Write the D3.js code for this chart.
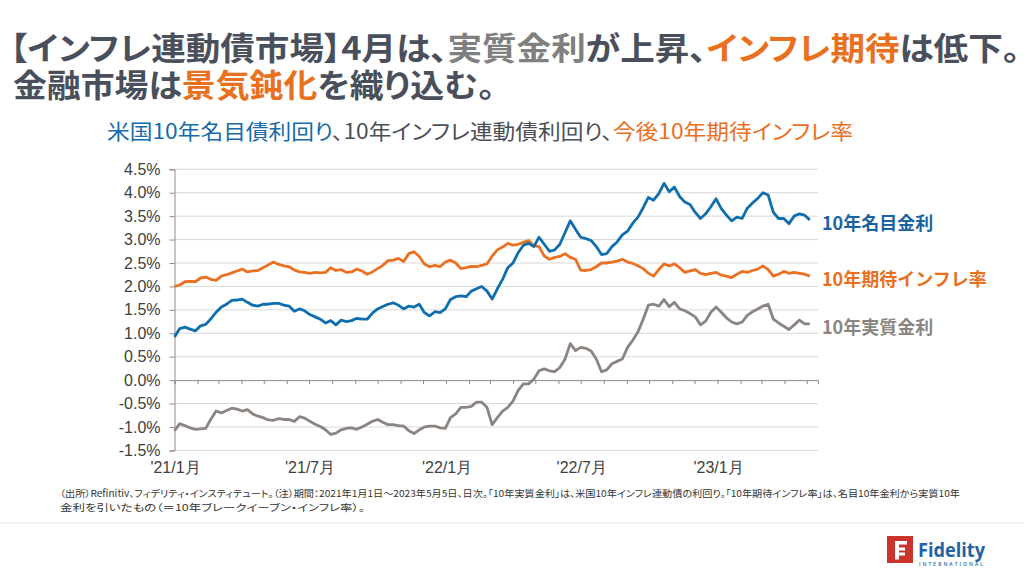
<!DOCTYPE html>
<html><head><meta charset="utf-8">
<script src="https://cdn.jsdelivr.net/npm/d3@7"></script>
<style>
body{margin:0;background:#fff;}
svg{display:block;}
.palt{font-feature-settings:"palt" 1;}
</style></head><body>
<svg id="c" width="1024" height="576"></svg>
<script>
// ---------- data ----------
const startDate = new Date(2021, 0, 1);
const endDate = new Date(2023, 4, 6);
// weekly observations (Fridays) 2021-01-01 .. 2023-05-05
const dates = d3.timeFriday.range(startDate, endDate);

const nominal = [
 0.92,1.10,1.13,1.09,1.05,1.16,1.19,1.31,1.45,1.56,
 1.62,1.70,1.71,1.73,1.66,1.60,1.58,1.62,1.62,1.64,
 1.64,1.60,1.58,1.47,1.52,1.48,1.40,1.35,1.30,1.22,
 1.27,1.18,1.28,1.25,1.27,1.32,1.30,1.30,1.43,1.52,
 1.57,1.62,1.65,1.60,1.52,1.58,1.56,1.62,1.44,1.37,
 1.46,1.44,1.52,1.72,1.78,1.80,1.78,1.90,1.95,2.00,
 1.90,1.73,1.95,2.15,2.40,2.50,2.72,2.88,2.92,2.85,
 3.05,2.90,2.75,2.78,2.90,3.15,3.40,3.22,3.05,3.02,
 2.98,2.85,2.68,2.70,2.85,2.95,3.10,3.18,3.35,3.48,
 3.68,3.90,3.84,3.98,4.20,4.02,4.12,3.92,3.80,3.75,
 3.58,3.45,3.55,3.70,3.87,3.66,3.52,3.40,3.48,3.45,
 3.67,3.78,3.88,4.00,3.95,3.58,3.45,3.45,3.34,3.50,
 3.55,3.52,3.42
];
const breakeven = [
 2.00,2.03,2.10,2.11,2.10,2.18,2.20,2.15,2.13,2.22,
 2.25,2.29,2.33,2.37,2.31,2.33,2.34,2.40,2.46,2.52,
 2.47,2.44,2.42,2.35,2.31,2.30,2.28,2.30,2.29,2.30,
 2.40,2.34,2.36,2.30,2.31,2.37,2.33,2.26,2.31,2.38,
 2.45,2.55,2.56,2.60,2.53,2.70,2.74,2.64,2.48,2.42,
 2.45,2.42,2.52,2.56,2.50,2.38,2.40,2.43,2.42,2.45,
 2.48,2.65,2.78,2.84,2.92,2.88,2.90,2.94,2.98,2.87,
 2.85,2.65,2.58,2.62,2.64,2.70,2.62,2.58,2.35,2.34,
 2.36,2.42,2.50,2.50,2.52,2.54,2.58,2.52,2.49,2.44,
 2.38,2.28,2.22,2.36,2.48,2.44,2.48,2.40,2.30,2.33,
 2.36,2.28,2.25,2.28,2.30,2.24,2.22,2.19,2.26,2.32,
 2.30,2.34,2.37,2.44,2.36,2.22,2.26,2.32,2.28,2.30,
 2.28,2.26,2.22
];
const real = [
 -1.08,-0.93,-0.97,-1.02,-1.05,-1.04,-1.03,-0.83,-0.66,-0.70,
 -0.65,-0.60,-0.62,-0.66,-0.63,-0.72,-0.77,-0.80,-0.85,-0.86,
 -0.82,-0.84,-0.84,-0.88,-0.78,-0.81,-0.88,-0.94,-0.99,-1.06,
 -1.16,-1.13,-1.06,-1.03,-1.02,-1.05,-1.00,-0.94,-0.88,-0.84,
 -0.90,-0.95,-0.95,-0.97,-0.98,-1.08,-1.14,-1.06,-1.00,-0.98,
 -0.98,-1.02,-1.03,-0.80,-0.72,-0.58,-0.58,-0.56,-0.47,-0.47,
 -0.58,-0.95,-0.80,-0.66,-0.58,-0.45,-0.22,-0.08,-0.08,0.02,
 0.20,0.24,0.20,0.18,0.27,0.45,0.78,0.63,0.70,0.68,
 0.62,0.45,0.18,0.22,0.35,0.40,0.45,0.70,0.85,1.03,
 1.30,1.60,1.62,1.58,1.72,1.57,1.66,1.52,1.48,1.42,
 1.35,1.18,1.26,1.45,1.56,1.45,1.33,1.24,1.20,1.24,
 1.38,1.46,1.52,1.58,1.62,1.30,1.22,1.15,1.08,1.18,
 1.28,1.20,1.20
];

const seriesNames = ["10年名目金利", "10年期待インフレ率", "10年実質金利"];
const yTicks = [-1.5,-1.0,-0.5,0.0,0.5,1.0,1.5,2.0,2.5,3.0,3.5,4.0,4.5];
const xLabelDates = ["2021-01-01","2021-07-01","2022-01-01","2022-07-01","2023-01-01"];
const xLabels = ["'21/1月","'21/7月","'22/1月","'22/7月","'23/1月"];

const titleLine1 = [["【インフレ連動債市場】4月は、","dark"],["実質金利","gray"],["が上昇、","dark"],["インフレ期待","orange"],["は低下。","dark"]];
const titleLine2 = [["金融市場は","dark"],["景気鈍化","orange"],["を織り込む。","dark"]];
const subtitle = [["米国10年名目債利回り","blue"],["、10年インフレ連動債利回り、","dark2"],["今後10年期待インフレ率","orange"]];
const note1 = "（出所）Refinitiv、フィデリティ・インスティテュート。（注）期間：2021年1月1日～2023年5月5日、日次。「10年実質金利」は、米国10年インフレ連動債の利回り。「10年期待インフレ率」は、名目10年金利から実質10年";
const note2 = "金利を引いたもの（＝10年ブレークイーブン・インフレ率）。";

// ---------- styles ----------
const C = {
  dark: "#4a505b", gray: "#808080", orange: "#e8701e", blue: "#176ba8", dark2: "#4a4f58",
  lineBlue: "#0f6fae", lineOrange: "#ec7021", lineGray: "#8b8480",
  labelBlue: "#1b639f", labelOrange: "#e8701e", labelGray: "#8a8580"
};
const JP = "'Noto Sans CJK JP','Noto Sans',sans-serif";
const AR = "'Liberation Sans',Arial,sans-serif";

const svg = d3.select("#c");

// ---------- title ----------
function addRich(x, y, size, weight, parts, len) {
  const t = svg.append("text").attr("class", "palt").attr("x", x).attr("y", y)
    .attr("font-family", JP).attr("font-size", size).attr("font-weight", weight);
  if (len) t.attr("textLength", len).attr("lengthAdjust", "spacingAndGlyphs");
  parts.forEach(p => t.append("tspan").text(p[0]).attr("fill", C[p[1]]));
  return t;
}
addRich(10, 60, 32, 700, titleLine1, 1010);
addRich(13, 97, 32, 700, titleLine2, 482);
addRich(107, 138.5, 21, 400, subtitle, 746);

// ---------- scales ----------
const x = d3.scaleTime().domain([new Date(2021,0,1), new Date(2023,4,16)]).range([174.5, 818]);
const y = d3.scaleLinear().domain([-1.5, 4.5]).range([450.4, 169.3]);

// gridlines
svg.append("g").selectAll("line").data(yTicks.filter(d => d !== 0)).join("line")
  .attr("x1", x.range()[0]).attr("x2", x.range()[1])
  .attr("y1", d => y(d)).attr("y2", d => y(d))
  .attr("stroke", "#d9d9d9").attr("stroke-width", 1);

// y axis
const yAxis = svg.append("g").attr("transform", `translate(${x.range()[0]},0)`)
  .call(d3.axisLeft(y).tickValues(yTicks).tickSize(5).tickPadding(9)
    .tickFormat(d => d.toFixed(1) + "%"));
yAxis.select(".domain").attr("stroke", "#8c8c8c");
yAxis.selectAll(".tick line").attr("stroke", "#8c8c8c");
yAxis.selectAll("text").attr("font-family", AR).attr("font-size", 16).attr("fill", "#404040");

// zero axis with monthly ticks
const xAxis = svg.append("g").attr("transform", `translate(0,${y(0)})`)
  .call(d3.axisBottom(x).ticks(d3.timeMonth.every(1)).tickSize(4).tickFormat(""));
xAxis.select(".domain").attr("stroke", "#8c8c8c");
xAxis.selectAll(".tick line").attr("stroke", "#8c8c8c");

// x labels
svg.append("g").selectAll("text").data(xLabelDates).join("text")
  .attr("x", (d) => x(new Date(d + "T00:00:00")) + 1)
  .attr("y", 473)
  .attr("text-anchor", "middle")
  .attr("font-family", AR).attr("font-size", 16).attr("fill", "#404040")
  .text((d, i) => xLabels[i]);

// ---------- lines ----------
const line = d3.line().x((d, i) => x(dates[i])).y(d => y(d)).curve(d3.curveLinear);
const series = [
  {vals: nominal, color: C.lineBlue, lab: C.labelBlue},
  {vals: breakeven, color: C.lineOrange, lab: C.labelOrange},
  {vals: real, color: C.lineGray, lab: C.labelGray}
];
svg.append("g").selectAll("path").data(series.slice().reverse()).join("path")
  .attr("d", s => line(s.vals))
  .attr("fill", "none").attr("stroke", s => s.color)
  .attr("stroke-width", 2.8).attr("stroke-linejoin", "round");

// end labels
svg.append("g").selectAll("text").data(series).join("text")
  .attr("x", 822)
  .attr("y", s => y(s.vals[s.vals.length - 1]) + 2)
  .attr("dominant-baseline", "central")
  .attr("font-family", JP).attr("font-size", 18).attr("font-weight", 700)
  .attr("fill", s => s.lab)
  .text((s, i) => seriesNames[i]);

// ---------- footnote ----------
svg.append("text").attr("class", "palt").attr("x", 60).attr("y", 497).attr("font-family", JP).attr("font-size", 9.5)
  .attr("fill", "#333").attr("textLength", 900).attr("lengthAdjust", "spacingAndGlyphs").text(note1);
svg.append("text").attr("class", "palt").attr("x", 60).attr("y", 511).attr("font-family", JP).attr("font-size", 9.5)
  .attr("fill", "#333").attr("textLength", 305).attr("lengthAdjust", "spacingAndGlyphs").text(note2);

// separator
svg.append("line").attr("x1", 0).attr("x2", 1024).attr("y1", 523).attr("y2", 523)
  .attr("stroke", "#e6e6e6").attr("stroke-width", 1);

// ---------- logo ----------
const logo = svg.append("g").attr("transform", "translate(887,536)");
logo.append("rect").attr("width", 26).attr("height", 27).attr("fill", "#c9352c");
logo.append("path").attr("fill", "#fff")
  .attr("d", "M8,5 h12 v3.5 h-8 v3 h6 v3 h-6 v2 h6 v3 h-6 v4 h-4 z");
logo.append("text").attr("x", 31).attr("y", 21).attr("font-family", "'Open Sans',sans-serif")
  .attr("font-weight", 700).attr("font-size", 20).attr("fill", "#1f62a6").attr("textLength", 67)
  .attr("lengthAdjust", "spacingAndGlyphs").text("Fidelity");
logo.append("text").attr("x", 32).attr("y", 30).attr("font-family", "'Open Sans',sans-serif")
  .attr("font-weight", 600).attr("font-size", 5).attr("fill", "#1f62a6").attr("textLength", 64)
  .attr("lengthAdjust", "spacing").text("INTERNATIONAL");
</script>
</body></html>
